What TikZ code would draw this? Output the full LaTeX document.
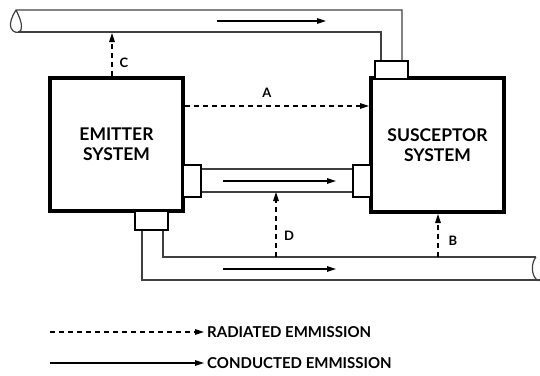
\documentclass[tikz,border=0pt]{standalone}
\usepackage{fontspec}
\setmainfont{Lato}
\usetikzlibrary{arrows.meta}
\begin{document}
\begin{tikzpicture}[x=1pt,y=-1pt,
  sysbox/.style={draw=black, line width=4pt, fill=white, align=center, font=\bfseries\fontsize{17.5}{20}\selectfont, inner sep=0pt},
  conn/.style={draw=black, line width=2pt, fill=white, inner sep=0pt},
  cable/.style={draw=black!75, line width=1.2pt},
  flow/.style={draw=black, line width=1.2pt, -{Triangle[length=9pt,width=5.5pt]}},
  rad/.style={draw=black, line width=1.2pt, dash pattern=on 5pt off 4pt, -{Triangle[length=9pt,width=5.5pt]}},
  lbl/.style={font=\bfseries\fontsize{13}{15}\selectfont, inner sep=0pt},
  legtext/.style={font=\bfseries\fontsize{15}{17}\selectfont, inner sep=0pt, anchor=west}]
\useasboundingbox (0,0) rectangle (540,375);
% systems
\node[sysbox, minimum width=133pt, minimum height=133pt] (em) at (116.5,144.5) {EMITTER\\SYSTEM};
\node[sysbox, minimum width=133pt, minimum height=134pt] (su) at (437.5,145) {SUSCEPTOR\\SYSTEM};
% connectors
\node[conn, minimum width=18pt, minimum height=32pt] (emr) at (192,181) {};
\node[conn, minimum width=33pt, minimum height=19pt] (emb) at (151.5,220.5) {};
\node[conn, minimum width=18pt, minimum height=32pt] (sul) at (362,181) {};
\node[conn, minimum width=33pt, minimum height=18pt] (sut) at (391.5,70) {};
% top cable
\coordinate (tc1) at (402,10);
\coordinate (tc2) at (381,32);
\draw[cable] (sut.north -| tc1) -- (tc1) -- (16,10)
  .. controls (12,16) and (9,24) .. (11,28) .. controls (13,33) and (19,34) .. (21,30)
  .. controls (23,25) and (19,16) .. (16,10);
\draw[cable] (sut.north -| tc2) -- (tc2) -- (18,32);
% middle cable
\draw[cable] (emr.east |- 0,169) -- (sul.west |- 0,169);
\draw[cable] (emr.east |- 0,192) -- (sul.west |- 0,192);
% bottom cable
\coordinate (bc1) at (163,257);
\coordinate (bc2) at (142,280);
\draw[cable] (emb.south -| bc1) -- (bc1) -- (536,257);
\draw[cable] (emb.south -| bc2) -- (bc2) -- (545,280);
\draw[cable] (536,257) .. controls (531,263) and (531,275) .. (537,280) .. controls (541,283) and (545,276) .. (545,268);
% conducted flow arrows
\coordinate (f1s) at (217,21); \coordinate (f1e) at (326,21);
\draw[flow] (f1s) -- (f1e);
\coordinate (f2s) at (223,181); \coordinate (f2e) at (336,181);
\draw[flow] (f2s) -- (f2e);
\coordinate (f3s) at (223,269); \coordinate (f3e) at (336,269);
\draw[flow] (f3s) -- (f3e);
% radiated arrows
\draw[rad] (em.east |- 0,106) -- (su.west |- 0,106);
\node[lbl] (la) at (267,93) {A};
\coordinate (cs) at (112,76);
\draw[rad] (cs) -- (112,33);
\node[lbl] (lc) at (124,63) {C};
\coordinate (ds) at (276,257);
\draw[rad] (ds) -- (276,192);
\node[lbl] (ld) at (289,236) {D};
\coordinate (bs) at (438,257);
\draw[rad] (bs) -- (su.south -| bs);
\node[lbl] (lb) at (453,241) {B};
% legend
\node[legtext] (l1) at (207,332) {RADIATED EMMISSION};
\node[legtext] (l2) at (207,363) {CONDUCTED EMMISSION};
\coordinate (l1s) at (50,332);
\coordinate (l2s) at (50,363);
\draw[rad] (l1s) -- ([xshift=-3pt]l1.west);
\draw[flow] (l2s) -- ([xshift=-3pt]l2.west);
\end{tikzpicture}
\end{document}
